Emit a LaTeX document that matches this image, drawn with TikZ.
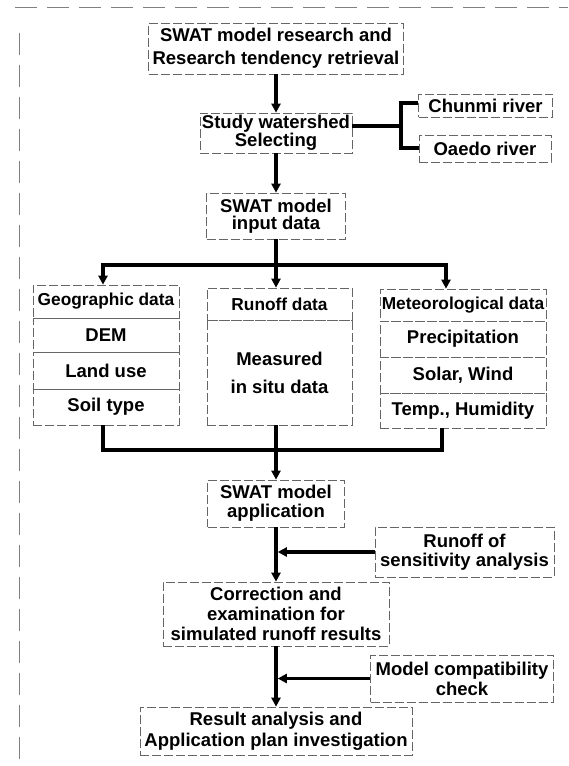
\documentclass[tikz,border=0pt]{standalone}
\usepackage{fontspec}
\setmainfont{Liberation Sans}
\usetikzlibrary{arrows.meta}
\tikzset{
  block/.style    = {draw=black!60, line width=0.7pt, dash pattern=on 9pt off 3pt,
                     align=center, inner sep=0pt},
  lead/.style     = {font=\fontsize{18.5}{#1}\selectfont\bfseries},
  head/.style     = {block, font=\fontsize{17.3}{20}\selectfont\bfseries},
  sig/.style      = {-{Triangle[length=9pt,width=9pt]}, line width=3.5pt},
  bus/.style      = {line width=3.5pt},
  scanline/.style = {black!50, line width=0.6pt, dash pattern=on 22pt off 10pt},
}

\begin{document}
\begin{tikzpicture}[x=1pt,y=-1pt,lead=20]
\useasboundingbox (0,0) rectangle (568,766);
% scan border
\draw[scanline] (15,7) -- (568,7);
\draw[scanline] (19,33) -- (19,766);

% upper chain
\node[block,lead=23,minimum width=255pt,minimum height=51pt] (retrieval) at (276,48.5)
  {SWAT model research and\\Research tendency retrieval};
\node[block,lead=15,minimum width=152pt,minimum height=40pt] (watershed) at (276,133)
  {Study watershed\\Selecting};
\node[block,minimum width=134pt,minimum height=23pt] (chunmi) at (485.5,105.5) {Chunmi river};
\node[block,minimum width=132pt,minimum height=27pt] (oaedo) at (485,148.5) {Oaedo river};
\node[block,lead=17,minimum width=139pt,minimum height=46pt] (input) at (276,216)
  {SWAT model\\input data};

% data columns
\node[head,minimum width=146pt,minimum height=33pt] (geo) at (106,301.5) {Geographic data};
\node[block,minimum width=146pt,minimum height=34pt] (dem) at (106,335) {DEM};
\node[block,minimum width=146pt,minimum height=37pt] (landuse) at (106,370.5) {Land use};
\node[block,minimum width=146pt,minimum height=36pt] (soil) at (106,407) {Soil type};
\node[head,minimum width=145pt,minimum height=32pt] (runoff) at (279.5,304) {Runoff data};
\node[block,lead=28,minimum width=145pt,minimum height=105pt] (insitu) at (279.5,372.5)
  {Measured\\in situ data};
\node[head,minimum width=166pt,minimum height=32pt] (meteo) at (463,305) {Meteorological data};
\node[block,minimum width=166pt,minimum height=36pt] (precip) at (463,339) {Precipitation};
\node[block,minimum width=166pt,minimum height=36pt] (solar) at (463,375) {Solar, Wind};
\node[block,minimum width=166pt,minimum height=35pt] (temp) at (463,410.5) {Temp., Humidity};

% lower chain
\node[block,lead=19,minimum width=137pt,minimum height=47pt] (application) at (276,503.5)
  {SWAT model\\application};
\node[block,lead=19,minimum width=179pt,minimum height=50pt] (sensitivity) at (464.5,552)
  {Runoff of\\sensitivity analysis};
\node[block,lead=20,minimum width=226pt,minimum height=64pt] (correction) at (276,614)
  {Correction and\\examination for\\simulated runoff results};
\node[block,lead=20,minimum width=183pt,minimum height=47pt] (compat) at (462,678.5)
  {Model compatibility\\check};
\node[block,lead=21.5,minimum width=272pt,minimum height=48pt] (result) at (276,731)
  {Result analysis and\\Application plan investigation};

% connectors
\coordinate (fork)  at (401,126);
\coordinate (split) at (276,265);
\coordinate (merge) at (276,450);
\draw[sig] (retrieval) -- (watershed);
\draw[bus] (watershed.east |- fork) -- (fork);
\draw[bus] (chunmi.west |- 0,103) -| (fork) |- (oaedo.west |- 0,148);
\draw[sig] (watershed) -- (input);
\draw[bus] (input) -- (split);
\draw[sig] (split) -| ([xshift=-3pt]geo.north);
\draw[sig] (split) -- (split |- runoff.north);
\draw[sig] (split) -| ([xshift=-17pt]meteo.north);
\draw[bus] ([xshift=-3pt]soil.south) |- (merge) -| ([xshift=-21pt]temp.south);
\draw[sig] (insitu.south -| merge) -- (application);
\draw[sig] (application) -- (correction);
\draw[sig,shorten >=1.75pt] (sensitivity) -- (sensitivity -| application);
\draw[sig] (correction) -- (result);
\draw[sig,shorten >=1.75pt] (compat) -- (compat -| correction);
\end{tikzpicture}
\end{document}
